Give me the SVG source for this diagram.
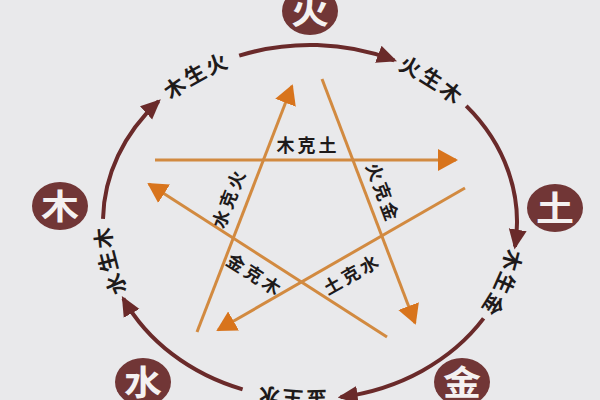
<svg xmlns="http://www.w3.org/2000/svg" width="600" height="400" viewBox="0 0 600 400">
<style>
.arc{fill:none;stroke:#6a2a2a;stroke-width:4;marker-end:url(#ah)}
.star{fill:none;stroke:#d28a40;stroke-width:3;marker-end:url(#oh)}
.node{fill:#713636}
.ntx{font-family:"Noto Sans CJK SC","Noto Sans CJK JP",sans-serif;font-size:38px;font-weight:bold;fill:#f4f1f1;text-anchor:middle}
.otx{font-family:"Noto Sans CJK SC","Noto Sans CJK JP",sans-serif;font-size:21px;font-weight:bold;fill:#1e1a1a;letter-spacing:3px}
.itx{font-family:"Noto Sans CJK SC","Noto Sans CJK JP",sans-serif;font-size:18px;font-weight:bold;fill:#1e1a1a;letter-spacing:3px;text-anchor:middle}
</style>
<defs>
<marker id="ah" markerUnits="userSpaceOnUse" viewBox="0 0 20 20" markerWidth="20" markerHeight="20" refX="17" refY="10" orient="auto">
<path d="M0,1 L20,10 L0,19 Z" fill="#6a2a2a"/>
</marker>
<marker id="oh" markerUnits="userSpaceOnUse" viewBox="0 0 20 22" markerWidth="20" markerHeight="22" refX="18" refY="11" orient="auto">
<path d="M0,0 L20,11 L0,22 Z" fill="#d8741c"/>
</marker>
<path id="l1" d="M158.6,101.3 A207,177 0 0 1 239.2,55.7"/>
<path id="l2" d="M394.2,60.3 A207,177 0 0 1 466.2,105.9"/>
<path id="l3" d="M515.0,246.6 A207,177 0 0 1 483.6,318.4"/>
<path id="l4" d="M340.6,397.1 A207,177 0 0 1 242.6,389.4"/>
<path id="l5" d="M123.3,298.5 A207,177 0 0 1 103.0,218.9"/>
</defs>
<rect width="600" height="400" fill="#e9e9eb"/>
<g id="connectors">
<path class="arc" d="M239.2,55.7 A207,177 0 0 1 394.2,60.3"/>
<path class="arc" d="M466.2,105.9 A207,177 0 0 1 515.0,246.6"/>
<path class="arc" d="M483.6,318.4 A207,177 0 0 1 340.6,397.1"/>
<path class="arc" d="M242.6,389.4 A207,177 0 0 1 123.3,298.5"/>
<path class="arc" d="M103.0,218.9 A207,177 0 0 1 158.6,101.3"/>
<text class="otx" dy="0.36em"><textPath href="#l1" startOffset="50%" text-anchor="middle">木生火</textPath></text>
<text class="otx" dy="0.36em"><textPath href="#l2" startOffset="50%" text-anchor="middle">火生木</textPath></text>
<text class="otx" dy="0.36em"><textPath href="#l3" startOffset="50%" text-anchor="middle">木生金</textPath></text>
<text class="otx" dy="0.36em"><textPath href="#l4" startOffset="50%" text-anchor="middle">金生水</textPath></text>
<text class="otx" dy="0.36em"><textPath href="#l5" startOffset="50%" text-anchor="middle">水生木</textPath></text>
<line class="star" x1="155" y1="160" x2="456" y2="160"/>
<line class="star" x1="322" y1="79" x2="415" y2="323"/>
<line class="star" x1="465" y1="188" x2="218" y2="330"/>
<line class="star" x1="387" y1="337" x2="149" y2="184"/>
<line class="star" x1="197" y1="332" x2="292" y2="86"/>
<text class="itx" x="308" y="152">木克土</text>
<text class="itx" transform="translate(383,193) rotate(69.2)" y="6.8">火克金</text>
<text class="itx" transform="translate(229,198) rotate(-68.8)" y="6.8">水克火</text>
<text class="itx" transform="translate(255,275) rotate(32.6)" y="6.8">金克木</text>
<text class="itx" transform="translate(352,274) rotate(-29.4)" y="6.8">土克水</text>
</g>
<g id="node-huo"><ellipse class="node" cx="310" cy="11" rx="28" ry="24"/><text class="ntx" transform="translate(310,11) scale(1,0.9)" y="14">火</text></g>
<g id="node-mu"><ellipse class="node" cx="60" cy="206" rx="28" ry="24"/><text class="ntx" transform="translate(60,206) scale(1,0.9)" y="14">木</text></g>
<g id="node-tu"><ellipse class="node" cx="555" cy="208" rx="28" ry="24"/><text class="ntx" transform="translate(555,208) scale(1,0.9)" y="14">土</text></g>
<g id="node-shui"><ellipse class="node" cx="143" cy="382" rx="28" ry="24"/><text class="ntx" transform="translate(143,382) scale(1,0.9)" y="14">水</text></g>
<g id="node-jin"><ellipse class="node" cx="462" cy="382" rx="28" ry="24"/><text class="ntx" transform="translate(462,382) scale(1,0.9)" y="14">金</text></g>
</svg>
